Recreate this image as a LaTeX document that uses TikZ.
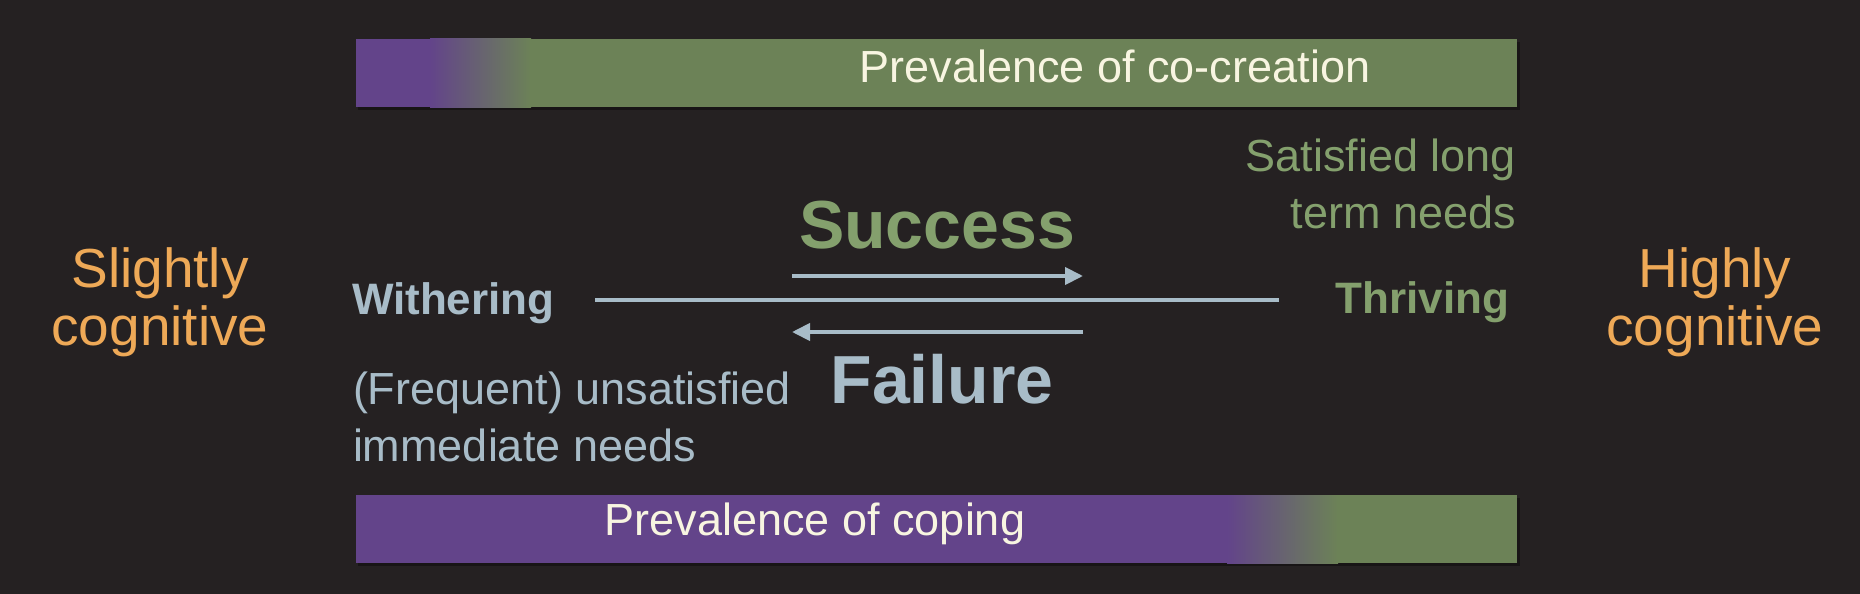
\documentclass[tikz,border=0pt]{standalone}
\usepackage{fontspec}
\setmainfont{Liberation Sans}
\usetikzlibrary{arrows.meta}
\definecolor{bg}{RGB}{37,33,34}
\definecolor{barpurple}{RGB}{99,68,138}
\definecolor{bargreen}{RGB}{108,130,87}
\definecolor{cream}{RGB}{248,245,225}
\definecolor{orangetxt}{RGB}{238,169,87}
\definecolor{bluegrey}{RGB}{168,188,200}
\definecolor{greentxt}{RGB}{132,160,109}
\definecolor{shadowc}{RGB}{24,21,22}
\tikzset{
  txt/.style={inner sep=0pt, outer sep=0pt},
  bartext/.style={txt, text=cream, font=\fontsize{45}{54}\selectfont},
  sidetext/.style={txt, text=orangetxt, align=center, font=\fontsize{55}{58}\selectfont},
  poletext/.style={txt, font=\bfseries\fontsize{44}{50}\selectfont},
  bigword/.style={txt, font=\bfseries\fontsize{68}{80}\selectfont},
  notetext/.style={txt, font=\fontsize{45}{57}\selectfont},
  axisline/.style={draw=bluegrey, line width=3.5pt},
  flowarrow/.style={draw=bluegrey, line width=4pt, -{Triangle[length=18pt,width=17pt]}},
}
\begin{document}
\begin{tikzpicture}[x=1pt,y=-1pt]
\useasboundingbox (0,0) rectangle (1860,594);
\fill[bg] (0,0) rectangle (1860,594);
% top bar
\fill[shadowc] (358,42) rectangle (1520,110);
\fill[barpurple] (356,39) rectangle (431,107);
\shade[left color=barpurple, right color=bargreen] (430,39) rectangle (531,107);
\fill[bargreen] (530,39) rectangle (1517,107);
% bottom bar
\fill[shadowc] (358,498) rectangle (1520,566);
\fill[barpurple] (356,495) rectangle (1228,563);
\shade[left color=barpurple, right color=bargreen] (1227,495) rectangle (1338,563);
\fill[bargreen] (1337,495) rectangle (1517,563);
% bar labels
\node[bartext, anchor=base] (cocreation) at (1115,82) {Prevalence of co-creation};
\node[bartext, anchor=base] (coping) at (815,535) {Prevalence of coping};
% side labels (base = last line)
\node[sidetext, anchor=base] (slightly) at (160,345) {Slightly\\cognitive};
\node[sidetext, anchor=base] (highly) at (1715,345) {Highly\\cognitive};
% poles
\node[poletext, text=bluegrey, anchor=base west] (withering) at (352,314) {Withering};
\node[poletext, text=greentxt, anchor=base east] (thriving) at (1509,313) {Thriving};
% big words
\node[bigword, text=greentxt, anchor=base] (success) at (937,248) {Success};
\node[bigword, text=bluegrey, anchor=base] (failure) at (942,403) {Failure};
% notes (base = last line)
\node[notetext, text=greentxt, align=right, anchor=base east] (longterm) at (1516,228) {Satisfied long\\term needs};
\node[notetext, text=bluegrey, align=left, anchor=base west] (immediate) at (353,461) {(Frequent) unsatisfied\\immediate needs};
% connectors
\coordinate (axisL) at (595,300);
\coordinate (axisR) at (1279,300);
\coordinate (sucL) at (792,276);
\coordinate (sucR) at (1083,276);
\coordinate (failR) at (1083,332);
\coordinate (failL) at (792,332);
\draw[axisline] (axisL) -- (axisR);
\draw[flowarrow] (sucL) -- (sucR);
\draw[flowarrow] (failR) -- (failL);
\end{tikzpicture}
\end{document}
